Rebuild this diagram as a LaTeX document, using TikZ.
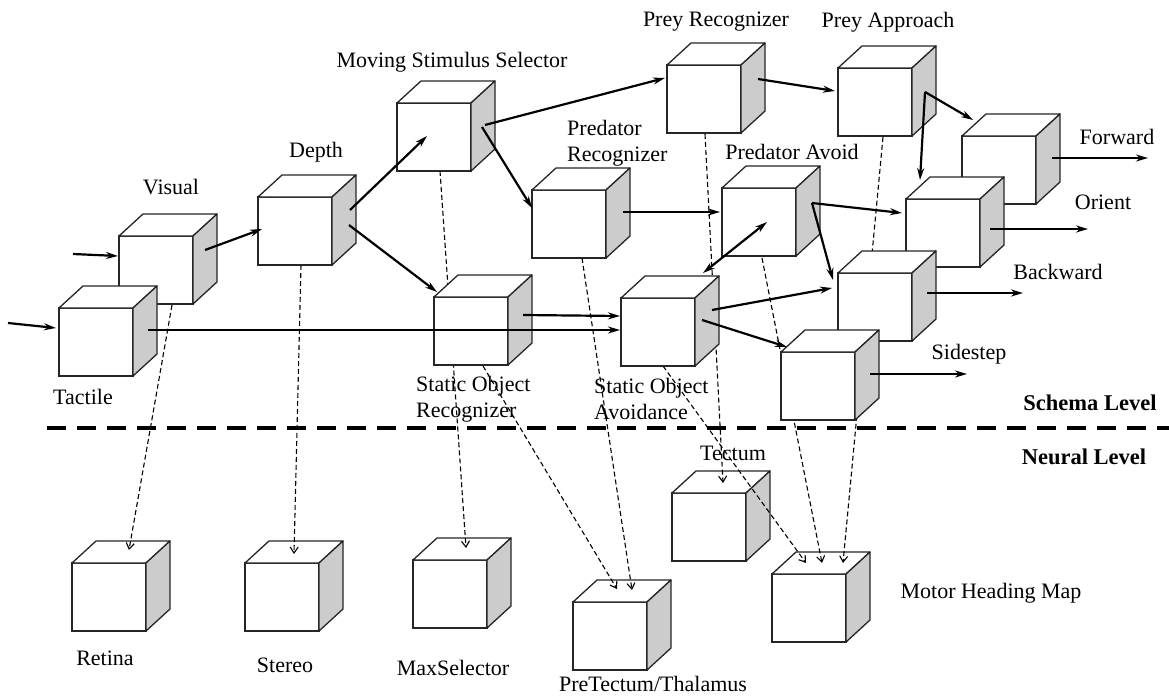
\documentclass[tikz,border=0pt]{standalone}
\usepackage{fontspec}
\setmainfont{Liberation Serif}
\usetikzlibrary{arrows.meta}
\pgfdeclarelayer{neural}
\pgfdeclarelayer{dashlayer}
\pgfsetlayers{neural,dashlayer,main}
\definecolor{sidegray}{RGB}{204,204,204}
\tikzset{
  cubefront/.style={rectangle, draw=black!85, line width=1.3pt, fill=white,
    minimum width=74pt, minimum height=68pt, inner sep=0pt, outer sep=0pt},
  cubeedge/.style={draw=black!85, line width=1.3pt, line join=round},
  flow/.style={line width=2.2pt, -{Stealth[length=12pt,width=7pt]}},
  flowboth/.style={line width=2.2pt, {Stealth[length=12pt,width=7pt]}-{Stealth[length=12pt,width=7pt]}},
  mapping/.style={line width=1.1pt, dash pattern=on 5pt off 3pt, -{Straight Barb[length=6pt,width=8pt]}},
  lab/.style={font=\fontsize{22}{26}\selectfont, inner sep=0pt},
  blab/.style={font=\fontsize{22.5}{26}\selectfont\bfseries, inner sep=0pt},
  levelline/.style={line width=3.5pt, dash pattern=on 19pt off 11pt},
}
\newcommand\cubeat[3]{%
  \node[cubefront] (#1) at ({#2+37},{#3+34}) {};
  \draw[cubeedge,fill=white] (#1.north west) -- ++(24,-22) -- ++(74,0) -- (#1.north east) -- cycle;
  \draw[cubeedge,fill=sidegray] (#1.north east) -- ++(24,-22) -- ++(0,68) -- (#1.south east) -- cycle;
}
\begin{document}
\begin{tikzpicture}[x=1pt,y=-1pt]
\useasboundingbox (0,0) rectangle (1169,698);

% ---------- neural level cubes (lowest layer) ----------
\begin{pgfonlayer}{neural}
\fill[white] (0,0) rectangle (1169,698);
\cubeat{ret}{72}{563}
\cubeat{ste}{245}{563}
\cubeat{mxs}{413}{560}
\cubeat{ptt}{573}{602}
\cubeat{tec}{672}{493}
\cubeat{mhm}{772}{574}
\end{pgfonlayer}

% ---------- schema level cubes ----------
\cubeat{vis}{119}{236}
\cubeat{tac}{59}{308}
\cubeat{dep}{258}{197}
\cubeat{mss}{397}{103}
\cubeat{prc}{667}{65}
\cubeat{pap}{838}{68}
\cubeat{pdr}{532}{190}
\cubeat{pda}{722}{188}
\cubeat{sor}{434}{297}
\cubeat{soa}{621}{298}
\cubeat{fwd}{962}{136}
\cubeat{ori}{906}{199}
\cubeat{bwd}{838}{273}
\cubeat{sid}{781}{352}

% ---------- dashed mappings (between layers) ----------
\begin{pgfonlayer}{dashlayer}
\draw[mapping] ([shift={(53,69)}]vis.north west) -- ([shift={(57,-13)}]ret.north west);
\draw[mapping] ([shift={(43,68)}]dep.north west) -- ([shift={(49,-9)}]ste.north west);
\draw[mapping] ([shift={(43,68)}]mss.north west) -- ([shift={(53,-12)}]mxs.north west);
\draw[mapping] ([shift={(49,69)}]sor.north west) -- ([shift={(44,-13)}]ptt.north west);
\draw[mapping] ([shift={(50,68)}]pdr.north west) -- ([shift={(59,-12)}]ptt.north west);
\draw[mapping] ([shift={(38,69)}]prc.north west) -- ([shift={(51,-10)}]tec.north west);
\draw[mapping] ([shift={(42,68)}]soa.north west) -- ([shift={(34,-11)}]mhm.north west);
\draw[mapping] ([shift={(40,70)}]pda.north west) -- ([shift={(50,-11)}]mhm.north west);
\draw[mapping] ([shift={(45,69)}]pap.north west) -- ([shift={(71,-11)}]mhm.north west);
\end{pgfonlayer}

% ---------- free ends ----------
\coordinate (inV) at (73,254);
\coordinate (inT) at (8,323);
\coordinate (outF) at (1148,158);
\coordinate (outO) at (1088,229);
\coordinate (outB) at (1023,293);
\coordinate (outS) at (967,374);

% ---------- solid flows ----------
\draw[flow] (inV) -- ([shift={(-1,20)}]vis.north west);
\draw[flow] (inT) -- ([shift={(-3,20)}]tac.north west);
\draw[flow] ([shift={(86,14)}]vis.north west) -- ([shift={(4,32)}]dep.north west);
\draw[flow] ([shift={(89,22)}]tac.north west) -- ([shift={(-1,32)}]soa.north west);
\draw[flow] ([shift={(89,18)}]sor.north west) -- ([shift={(-1,18)}]soa.north west);
\draw[flow] ([shift={(92,13)}]dep.north west) -- ([shift={(30,33)}]mss.north west);
\draw[flow] ([shift={(91,28)}]dep.north west) -- ([shift={(3,-5)}]sor.north west);
\draw[flow] ([shift={(88,22)}]mss.north west) -- ([shift={(-2,13)}]prc.north west);
\draw[flow] ([shift={(85,24)}]mss.north west) -- ([shift={(0,18)}]pdr.north west);
\draw[flow] ([shift={(91,22)}]pdr.north west) -- ([shift={(-2,24)}]pda.north west);
\draw[flowboth] ([shift={(45,34)}]pda.north west) -- ([shift={(82,-25)}]soa.north west);
\draw[flow] ([shift={(91,14)}]prc.north west) -- ([shift={(-3,23)}]pap.north west);
\draw[flow] ([shift={(87,24)}]pap.north west) -- ([shift={(11,-16)}]fwd.north west);
\draw[flow] ([shift={(87,24)}]pap.north west) -- ([shift={(14,-19)}]ori.north west);
\draw[flow] ([shift={(90,15)}]pda.north west) -- ([shift={(-4,14)}]ori.north west);
\draw[flow] ([shift={(90,15)}]pda.north west) -- ([shift={(-5,7)}]bwd.north west);
\draw[flow] ([shift={(91,12)}]soa.north west) -- ([shift={(-6,15)}]bwd.north west);
\draw[flow] ([shift={(81,22)}]soa.north west) -- ([shift={(6,-5)}]sid.north west);
\draw[flow] ([shift={(90,22)}]fwd.north west) -- (outF);
\draw[flow] ([shift={(84,30)}]ori.north west) -- (outO);
\draw[flow] ([shift={(89,20)}]bwd.north west) -- (outB);
\draw[flow] ([shift={(89,22)}]sid.north west) -- (outS);

% ---------- level separator ----------
\coordinate (sepL) at (47,428);
\coordinate (sepR) at (1169,428);
\draw[levelline] (sepL) -- (sepR);

% ---------- labels ----------
\node[lab] (lvis) at (171,187) {Visual};
\node[lab] (ldep) at (316,152) {Depth};
\node[lab] (lmss) at (452,62) {Moving Stimulus Selector};
\node[lab] (lprc) at (716,22) {Prey Recognizer};
\node[lab] (lpap) at (888,22) {Prey Approach};
\node[lab, align=left, anchor=west] (lpdr) at (567,143) {Predator\\Recognizer};
\node[lab] (lpda) at (792,152) {Predator Avoid};
\node[lab, align=left, anchor=west] (lsor) at (416,399) {Static Object\\Recognizer};
\node[lab, align=left, anchor=west] (lsoa) at (594,399) {Static Object\\Avoidance};
\node[lab] (ltac) at (83,397) {Tactile};
\node[lab] (lfwd) at (1117,137) {Forward};
\node[lab] (lori) at (1103,202) {Orient};
\node[lab] (lbwd) at (1058,272) {Backward};
\node[lab] (lsid) at (969,354) {Sidestep};
\node[blab] (lschema) at (1090,403) {Schema Level};
\node[blab] (lneural) at (1084,457) {Neural Level};
\node[lab] (lret) at (105,658) {Retina};
\node[lab] (lste) at (285,665) {Stereo};
\node[lab] (lmxs) at (453,668) {MaxSelector};
\node[lab] (lptt) at (653,684) {PreTectum/Thalamus};
\node[lab] (ltec) at (733,453) {Tectum};
\node[lab] (lmhm) at (991,593) {Motor Heading Map};
\end{tikzpicture}
\end{document}
